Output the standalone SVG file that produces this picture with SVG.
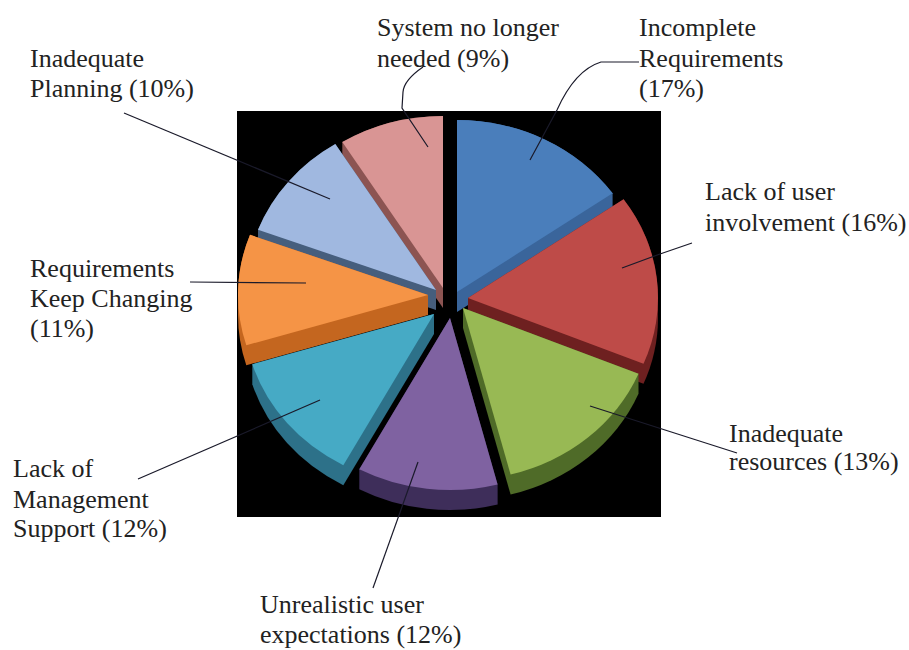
<svg xmlns="http://www.w3.org/2000/svg" width="909" height="650" viewBox="0 0 909 650">
<style>
text{font-family:"Liberation Serif","Times New Roman",serif;font-size:26px;fill:#222}
.lead{fill:none;stroke:#1a1a2a;stroke-width:1.2}
</style>
<rect x="0" y="0" width="909" height="650" fill="#ffffff"/>
<rect id="plot" x="237" y="111" width="424" height="406" fill="#000000"/>
<g id="slice-pink">
<path d="M443,116 L443,308 L342.3,162.1 L342.3,142.1 A190,172 0 0 1 443,116 Z" fill="#8c5452"/>
<path d="M443,288 L342.3,142.1 A190,172 0 0 1 443,116 Z" fill="#d99594"/>
</g>
<g id="slice-blue">
<path d="M457,120 A190,172 0 0 1 612.6,193.3 L612.6,213.3 L457,312 Z" fill="#3a659b"/>
<path d="M457,292 L457,120 A190,172 0 0 1 612.6,193.3 Z" fill="#4a7ebb"/>
</g>
<g id="slice-lightblue">
<path d="M436,290 L436,310 L258,249.8 L258,229.8 A190,172 0 0 1 335.3,144.1 Z" fill="#465e7d"/>
<path d="M436,290 L258,229.8 A190,172 0 0 1 335.3,144.1 Z" fill="#a0b8e0"/>
</g>
<g id="slice-red">
<path d="M468,298 L623.6,199.3 A190,172 0 0 1 658,298 L658,318 A190,172 0 0 1 643.5,383.8 L468,318 Z" fill="#6e2020"/>
<path d="M468,298 L623.6,199.3 A190,172 0 0 1 643.5,363.8 Z" fill="#be4b48"/>
</g>
<g id="slice-orange">
<path d="M428,295 L428,315 L246.3,365.3 A190,172 0 0 1 238,315 L238,295 A190,172 0 0 1 250,234.8 Z" fill="#c4661f"/>
<path d="M428,295 L246.3,345.3 A190,172 0 0 1 250,234.8 Z" fill="#f59446"/>
</g>
<g id="slice-green">
<path d="M463,308 L638.5,373.8 L638.5,393.8 A190,172 0 0 1 510.6,494.5 L463,328 Z" fill="#4f6b28"/>
<path d="M463,308 L638.5,373.8 A190,172 0 0 1 510.6,474.5 Z" fill="#98b954"/>
</g>
<g id="slice-teal">
<path d="M434,314 L434,334 L343.3,485.2 A190,172 0 0 1 252.3,384.3 L252.3,364.3 Z" fill="#2d7189"/>
<path d="M434,314 L343.3,465.2 A190,172 0 0 1 252.3,364.3 Z" fill="#46aac5"/>
</g>
<g id="slice-purple">
<path d="M450,318 L497.6,484.5 L497.6,504.5 A190,172 0 0 1 359.3,489.2 L359.3,469.2 Z" fill="#3e2e5a"/>
<path d="M450,318 L497.6,484.5 A190,172 0 0 1 359.3,469.2 Z" fill="#7f62a1"/>
</g>
<g id="connectors">
<path class="lead" d="M423,67 Q404,80 403,92 L402,108 L428,147"/>
<path class="lead" d="M124,113 L330,199"/>
<path class="lead" d="M639,62 L601,62 Q575,70 557,110 L530,160"/>
<path class="lead" d="M622,268 L660,254 L692,243"/>
<path class="lead" d="M590,406 L737,453"/>
<path class="lead" d="M190,282 L306,283"/>
<path class="lead" d="M138,479 L320,400"/>
<path class="lead" d="M373,588 L418,462"/>
</g>
<g id="label-system"><text x="377" y="36">System no longer</text><text x="377" y="67">needed (9%)</text></g>
<g id="label-incomplete"><text x="639" y="36">Incomplete</text><text x="639" y="67">Requirements</text><text x="639" y="97">(17%)</text></g>
<g id="label-planning"><text x="30" y="67">Inadequate</text><text x="30" y="97">Planning (10%)</text></g>
<g id="label-involvement"><text x="705" y="200">Lack of user</text><text x="705" y="231">involvement (16%)</text></g>
<g id="label-changing"><text x="30" y="277">Requirements</text><text x="30" y="307">Keep Changing</text><text x="30" y="337">(11%)</text></g>
<g id="label-resources"><text x="729" y="442">Inadequate</text><text x="729" y="470">resources (13%)</text></g>
<g id="label-management"><text x="13" y="477">Lack of</text><text x="13" y="508">Management</text><text x="13" y="537">Support (12%)</text></g>
<g id="label-unrealistic"><text x="260" y="613">Unrealistic user</text><text x="260" y="643">expectations (12%)</text></g>
</svg>
